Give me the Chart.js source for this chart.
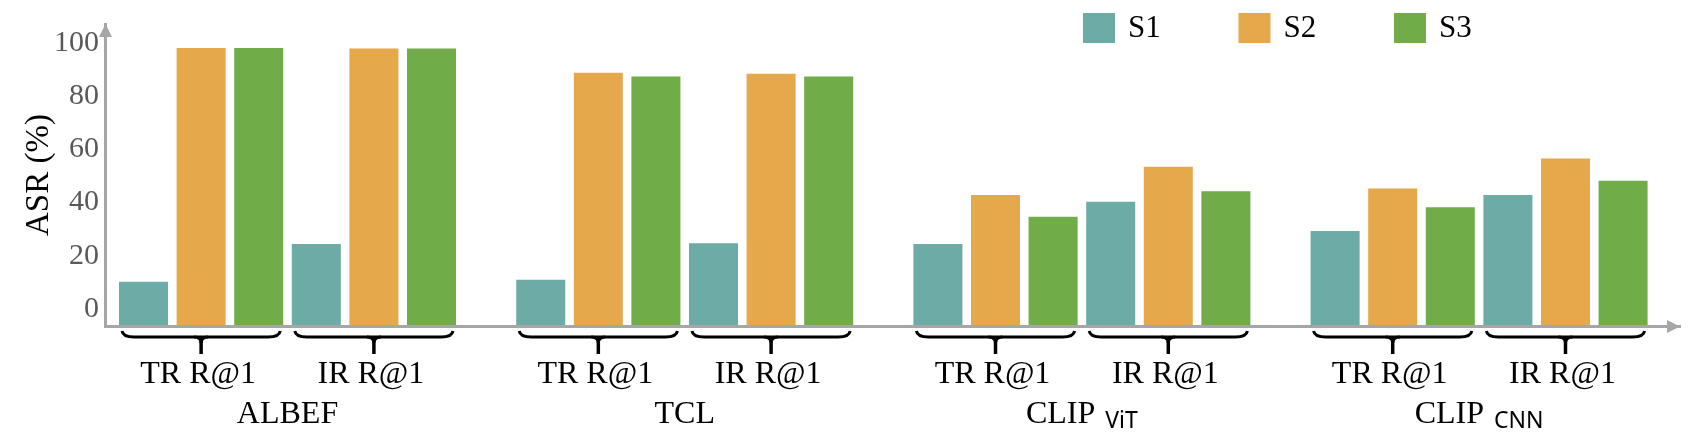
<!DOCTYPE html>
<html>
<head>
<meta charset="utf-8">
<script src="https://cdn.jsdelivr.net/npm/chart.js@4.4.0/dist/chart.umd.min.js"></script>
<style>
  body { margin: 0; background: #fff; }
  #wrap { width: 1701px; height: 441px; position: relative; }
</style>
</head>
<body>
<div id="wrap"><canvas id="asrChart"></canvas></div>
<script>
const models = ['ALBEF', 'TCL', 'CLIP', 'CLIP'];
const modelSubs = ['', '', 'ViT', 'CNN'];
const metrics = ['TR R@1', 'IR R@1'];
const seriesNames = ['S1', 'S2', 'S3'];
const seriesColors = ['#6DABA6', '#E5A84B', '#70AC47'];

// ASR (%) per model (ALBEF, TCL, CLIP ViT, CLIP CNN)
const trS1 = [10.2, 11.0, 24.4, 29.3];
const trS2 = [98.0, 88.7, 42.8, 45.2];
const trS3 = [98.0, 87.3, 34.6, 38.2];
const irS1 = [24.4, 24.7, 40.3, 42.8];
const irS2 = [97.8, 88.3, 53.4, 56.5];
const irS3 = [97.8, 87.3, 44.2, 48.1];

const yTicks = [0, 20, 40, 60, 80, 100];

const SERIF = "'Liberation Serif', 'Times New Roman', serif";
const AXIS_GREY = '#A6A6A6';
const Y_MIN = -6.4, Y_MAX = 107;
const X_MIN = -0.4595, X_MAX = 3.5058;

const values = [[trS1, trS2, trS3], [irS1, irS2, irS3]];
const datasets = [];
metrics.forEach((m, mi) => {
  seriesNames.forEach((s, si) => {
    datasets.push({
      label: s,
      metric: m,
      data: values[mi][si].map((v, i) => ({x: i, y: v})),
      backgroundColor: seriesColors[si],
      base: Y_MIN,
      categoryPercentage: 0.87,
      barPercentage: 0.851
    });
  });
});

// axes arrows, braces, group labels and legend
const decor = {
  id: 'decor',
  afterDraw(chart) {
    const {ctx, chartArea: area} = chart;
    ctx.save();

    // arrow heads
    ctx.fillStyle = AXIS_GREY;
    ctx.beginPath();
    ctx.moveTo(area.left + 0.5, area.top);
    ctx.lineTo(area.left - 6, area.top + 13);
    ctx.lineTo(area.left + 7, area.top + 13);
    ctx.closePath();
    ctx.fill();
    ctx.beginPath();
    ctx.moveTo(area.right, area.bottom + 0.5);
    ctx.lineTo(area.right - 13, area.bottom - 6);
    ctx.lineTo(area.right - 13, area.bottom + 7);
    ctx.closePath();
    ctx.fill();

    const y0 = area.bottom;
    models.forEach((name, i) => {
      metrics.forEach((m, mi) => {
        const first = chart.getDatasetMeta(mi * 3).data[i];
        const last = chart.getDatasetMeta(mi * 3 + 2).data[i];
        const x0 = first.x - first.width / 2 + 3;
        const x1 = last.x + last.width / 2 - 3;
        const xc = (x0 + x1) / 2;
        // brace
        ctx.strokeStyle = '#000';
        ctx.lineWidth = 3;
        ctx.beginPath();
        ctx.moveTo(x0, y0 + 5);
        ctx.quadraticCurveTo(x0 + 1, y0 + 11, x0 + 12, y0 + 11);
        ctx.lineTo(x1 - 12, y0 + 11);
        ctx.quadraticCurveTo(x1 - 1, y0 + 11, x1, y0 + 5);
        ctx.stroke();
        ctx.beginPath();
        ctx.moveTo(xc - 7, y0 + 11);
        ctx.quadraticCurveTo(xc, y0 + 11, xc, y0 + 17);
        ctx.quadraticCurveTo(xc, y0 + 11, xc + 7, y0 + 11);
        ctx.stroke();
        ctx.lineWidth = 3.5;
        ctx.beginPath();
        ctx.moveTo(xc, y0 + 12);
        ctx.lineTo(xc, y0 + 28);
        ctx.stroke();
        // metric label
        ctx.fillStyle = '#000';
        ctx.font = '32px ' + SERIF;
        ctx.textAlign = 'center';
        ctx.textBaseline = 'alphabetic';
        ctx.fillText(m, xc - 3, y0 + 57);
      });

      // model label
      const a = chart.getDatasetMeta(0).data[i];
      const b = chart.getDatasetMeta(5).data[i];
      const gc = (a.x - a.width / 2 + b.x + b.width / 2) / 2;
      ctx.font = '32px ' + SERIF;
      const mainW = ctx.measureText(name).width;
      let subW = 0, gap = 0;
      if (modelSubs[i]) {
        ctx.font = "23px 'Noto Sans', sans-serif";
        subW = ctx.measureText(modelSubs[i]).width;
        gap = 10;
      }
      const start = gc - (mainW + gap + subW) / 2;
      ctx.textAlign = 'left';
      ctx.font = '32px ' + SERIF;
      ctx.fillText(name, start, y0 + 97);
      if (modelSubs[i]) {
        ctx.font = "23px 'Noto Sans', sans-serif";
        ctx.fillText(modelSubs[i], start + mainW + gap, y0 + 102);
      }
    });

    // legend
    let lx = 1083;
    ctx.font = '31px ' + SERIF;
    ctx.textBaseline = 'middle';
    ctx.textAlign = 'left';
    seriesNames.forEach((s, si) => {
      ctx.fillStyle = seriesColors[si];
      ctx.fillRect(lx, 13, 32, 30);
      ctx.fillStyle = '#000';
      ctx.fillText(s, lx + 45, 29);
      lx += 155.5;
    });
    ctx.restore();
  }
};

new Chart(document.getElementById('asrChart'), {
  type: 'bar',
  data: { datasets: datasets },
  options: {
    responsive: true,
    maintainAspectRatio: false,
    animation: false,
    layout: { padding: { top: 5, right: 21, bottom: 115, left: 0 } },
    plugins: {
      legend: { display: false },
      tooltip: { enabled: false }
    },
    scales: {
      x: {
        type: 'linear',
        offset: false,
        min: X_MIN,
        max: X_MAX,
        grid: { display: false, drawTicks: false, offset: false },
        border: { display: true, color: AXIS_GREY, width: 3, z: 1 },
        ticks: { display: false },
        afterBuildTicks: (s) => { s.ticks = models.map((m, i) => ({value: i})); },
        afterFit: (s) => { s.height = 0; }
      },
      y: {
        min: Y_MIN,
        max: Y_MAX,
        grid: { display: false, drawTicks: false },
        border: { display: true, color: AXIS_GREY, width: 3, z: 1 },
        afterBuildTicks: (s) => { s.ticks = yTicks.map(v => ({value: v})); },
        afterFit: (s) => { s.width = 105; },
        ticks: {
          color: '#595959',
          padding: 6,
          font: { family: SERIF, size: 30 }
        },
        title: {
          display: true,
          text: 'ASR (%)',
          color: '#000',
          padding: { top: 20, bottom: 0 },
          font: { family: SERIF, size: 33 }
        }
      }
    }
  },
  plugins: [decor]
});
</script>
</body>
</html>
